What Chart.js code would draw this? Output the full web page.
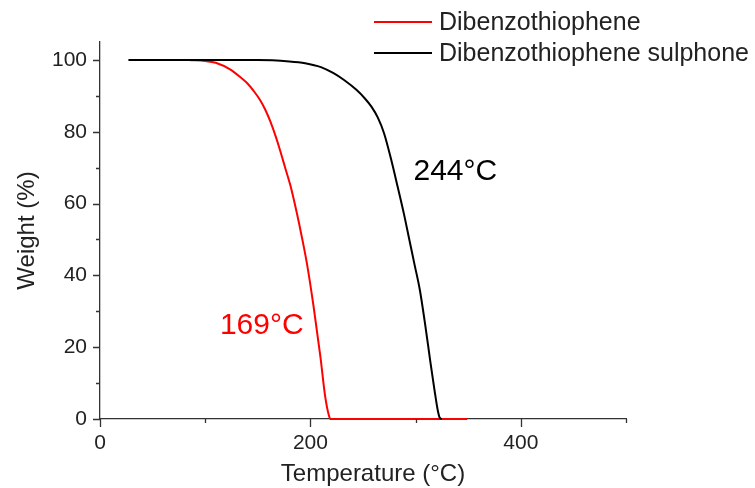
<!DOCTYPE html>
<html>
<head>
<meta charset="utf-8">
<script src="https://cdn.jsdelivr.net/npm/chart.js@4.4.0/dist/chart.umd.min.js"></script>
<style>
    html, body { margin: 0; padding: 0; background: #fff; }
    #wrap { width: 755px; height: 488px; }
</style>
</head>
<body>
<div id="wrap"><canvas id="chartTga"></canvas></div>
<script>
// TGA curves
const seriesNames = ['Dibenzothiophene', 'Dibenzothiophene sulphone'];
const seriesColors = ['#ff0000', '#000000'];

const dbtTemp = [85, 100, 110, 124, 133, 140, 147, 152, 157, 162, 167, 171, 176, 181, 187, 192, 197, 203, 209.5, 214, 217.4, 219, 349];
const dbtWeight = [100, 99.7, 99.2, 97.3, 95.3, 93.5, 91, 88.9, 86.2, 82.8, 78.7, 75, 70, 65, 57.5, 50.5, 42.8, 31.4, 17.4, 6.4, 1.2, 0, 0];

const dbtoTemp = [27, 150, 180, 195, 210, 222, 232, 244, 252, 258, 264, 270, 277, 283, 289, 294, 299, 304, 309, 314, 318, 321, 323, 325];
const dbtoWeight = [100, 100, 99.6, 99.1, 98.0, 96.3, 94.4, 91.6, 89.2, 87.0, 84.0, 79.6, 72, 64.6, 57, 50, 43, 36, 26.5, 16, 8, 2.5, 0.3, 0];

const onsetLabels = ['169°C', '244°C'];

const fontFamily = '"Liberation Sans", Arial, sans-serif';
const textColor = '#222';

function toPoints(xs, ys) {
    return xs.map((x, i) => ({ x: x, y: ys[i] }));
}

// minor / major tick marks, drawn outward like the original
const tickMarks = {
    id: 'tickMarks',
    afterDraw(chart) {
        const ctx = chart.ctx;
        const x = chart.scales.x;
        const y = chart.scales.y;
        const area = chart.chartArea;
        ctx.save();
        ctx.strokeStyle = '#333';
        ctx.lineWidth = 1.3;
        ctx.beginPath();
        x.ticks.forEach(t => {
            const px = Math.round(x.getPixelForValue(t.value)) + 0.5;
            const len = t.value % 200 === 0 ? 8 : 4;
            ctx.moveTo(px, area.bottom);
            ctx.lineTo(px, area.bottom + len);
        });
        y.ticks.forEach(t => {
            const py = Math.round(y.getPixelForValue(t.value)) + 0.5;
            const len = t.value % 20 === 0 ? 7 : 4;
            ctx.moveTo(area.left, py);
            ctx.lineTo(area.left - len, py);
        });
        ctx.stroke();
        ctx.restore();
    }
};

// legend in the top right corner, x title and the onset temperatures
const overlay = {
    id: 'overlay',
    afterDraw(chart) {
        const ctx = chart.ctx;
        const x = chart.scales.x;
        const y = chart.scales.y;
        ctx.save();

        ctx.font = '25px ' + fontFamily;
        ctx.textBaseline = 'middle';
        ctx.textAlign = 'left';
        seriesNames.forEach((name, i) => {
            const ly = 22 + i * 31;
            ctx.strokeStyle = seriesColors[i];
            ctx.lineWidth = 2;
            ctx.beginPath();
            ctx.moveTo(374, ly);
            ctx.lineTo(432, ly);
            ctx.stroke();
            ctx.fillStyle = textColor;
            ctx.fillText(name, 439, ly + 1);
        });

        ctx.font = '24px ' + fontFamily;
        ctx.textAlign = 'center';
        ctx.fillStyle = textColor;
        ctx.fillText('Temperature (°C)', 373, 474);

        ctx.textAlign = 'left';
        ctx.font = '30px ' + fontFamily;
        ctx.fillStyle = seriesColors[0];
        ctx.fillText(onsetLabels[0], x.getPixelForValue(114), y.getPixelForValue(26));
        ctx.fillStyle = seriesColors[1];
        ctx.fillText(onsetLabels[1], x.getPixelForValue(298), y.getPixelForValue(69));
        ctx.restore();
    }
};

new Chart(document.getElementById('chartTga'), {
    type: 'line',
    data: {
        datasets: [
            {
                label: seriesNames[0],
                data: toPoints(dbtTemp, dbtWeight),
                borderColor: seriesColors[0],
                borderWidth: 2,
                pointRadius: 0,
                cubicInterpolationMode: 'monotone',
                clip: false,
                order: 1
            },
            {
                label: seriesNames[1],
                data: toPoints(dbtoTemp, dbtoWeight),
                borderColor: seriesColors[1],
                borderWidth: 2,
                pointRadius: 0,
                cubicInterpolationMode: 'monotone',
                clip: false,
                order: 0
            }
        ]
    },
    options: {
        responsive: true,
        maintainAspectRatio: false,
        animation: false,
        events: [],
        layout: {
            padding: { top: 42, right: 129, left: 0, bottom: 0 }
        },
        plugins: {
            legend: { display: false },
            tooltip: { enabled: false }
        },
        scales: {
            x: {
                type: 'linear',
                min: 0,
                max: 500,
                afterFit(scale) { scale.height = 69; },
                grid: { display: false, drawTicks: false },
                border: { display: true, color: '#333', width: 1.3 },
                ticks: {
                    stepSize: 100,
                    padding: 12,
                    autoSkip: false,
                    maxRotation: 0,
                    color: textColor,
                    font: { family: fontFamily, size: 21 },
                    callback: v => (v % 200 === 0 ? v : '')
                }
            },
            y: {
                type: 'linear',
                min: 0,
                max: 105,
                afterFit(scale) { scale.width = 100; },
                afterBuildTicks(scale) {
                    scale.ticks = scale.ticks.filter(t => t.value % 10 === 0);
                },
                grid: { display: false, drawTicks: false },
                border: { display: true, color: '#333', width: 1.3 },
                ticks: {
                    stepSize: 10,
                    includeBounds: false,
                    autoSkip: false,
                    padding: 13,
                    color: textColor,
                    font: { family: fontFamily, size: 21 },
                    callback: v => (v % 20 === 0 ? v : '')
                },
                title: {
                    display: true,
                    text: 'Weight (%)',
                    color: textColor,
                    font: { family: fontFamily, size: 24 },
                    padding: { top: 13, bottom: 0 }
                }
            }
        }
    },
    plugins: [tickMarks, overlay]
});
</script>
</body>
</html>
